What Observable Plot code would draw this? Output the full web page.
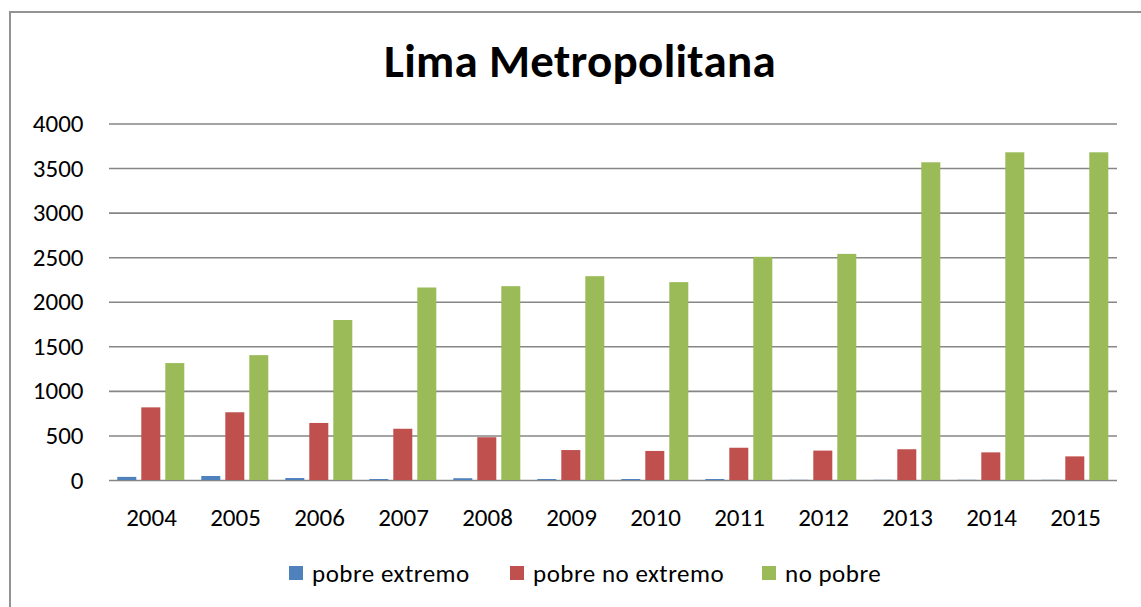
<!DOCTYPE html>
<html>
<head>
<meta charset="utf-8">
<script src="https://cdn.jsdelivr.net/npm/d3@7"></script>
<script src="https://cdn.jsdelivr.net/npm/@observablehq/plot@0.6"></script>
<style>
  html, body { margin: 0; padding: 0; width: 1141px; height: 607px; overflow: hidden; background: #fff; }
  body { position: relative; font-family: Carlito, Calibri, Lato, sans-serif; color: #000; }
  #frame { position: absolute; left: 9px; top: 11px; width: 1200px; height: 700px; border: 2px solid #939393; box-sizing: border-box; pointer-events: none; z-index: 3; }
  #title { position: absolute; left: 0; width: 1160px; top: 38px; text-align: center; font-weight: 700; font-size: 47px; letter-spacing: 0.3px; line-height: 1; z-index: 2; }
  #chart { position: absolute; left: 0; top: 0; z-index: 1; }
  #chart svg { background: transparent !important; overflow: visible; }
  .item { position: absolute; top: 559px; height: 28px; display: flex; align-items: center; font-size: 25px; letter-spacing: 0.5px; z-index: 2; white-space: nowrap; }
  .sw { width: 14px; height: 14px; margin-right: 9px; }
</style>
</head>
<body>
<div id="frame"></div>
<div id="title">Lima Metropolitana</div>
<div id="chart"></div>
<div id="legend"></div>
<script>
const years = ["2004","2005","2006","2007","2008","2009","2010","2011","2012","2013","2014","2015"];
const seriesNames = ["pobre extremo", "pobre no extremo", "no pobre"];
const seriesColors = ["#4F81BD", "#C0504D", "#9BBB59"];
const pobreExtremo   = [35, 45, 22, 11, 20, 11, 11, 11, 2, 2, 2, 2];
const pobreNoExtremo = [815, 760, 640, 575, 480, 336, 326, 362, 330, 345, 310, 265];
const noPobre        = [1312, 1401, 1795, 2160, 2175, 2287, 2220, 2504, 2537, 3565, 3677, 3677];
const yTicks = [0, 500, 1000, 1500, 2000, 2500, 3000, 3500, 4000];
const legendLeft = [289, 510, 762];

const seriesValues = [pobreExtremo, pobreNoExtremo, noPobre];
const data = [];
years.forEach((yr, i) => {
  seriesNames.forEach((s, j) => data.push({year: yr, series: s, value: seriesValues[j][i]}));
});

const font = "Carlito, Calibri, Lato, sans-serif";
const chart = Plot.plot({
  width: 1141,
  height: 540,
  marginLeft: 105.7,
  marginRight: 19.7,
  marginTop: 123.5,
  marginBottom: 60,
  style: {fontFamily: font, background: "transparent", color: "#000"},
  fx: {domain: years, padding: 0, axis: null, label: null},
  x: {domain: seriesNames, paddingInner: 0.22, paddingOuter: 0.3, axis: null, label: null},
  y: {domain: [0, 4000], axis: null, label: null},
  color: {domain: seriesNames, range: seriesColors},
  marks: [
    Plot.gridY(yTicks, {stroke: "#868686", strokeOpacity: 1, strokeWidth: 1.6}),
    Plot.barY(data, {fx: "year", x: "series", y: "value", fill: "series"}),
    Plot.axisY(yTicks, {tickSize: 0, tickPadding: 26, fontSize: 25, label: null, fill: "#000", tickFormat: d => String(d)}),
    Plot.axisFx({anchor: "bottom", tickSize: 0, tickPadding: 28, fontSize: 25, label: null, fill: "#000"})
  ]
});
document.getElementById("chart").appendChild(chart);

const legend = document.getElementById("legend");
seriesNames.forEach((s, j) => {
  const it = document.createElement("div");
  it.className = "item";
  it.style.left = legendLeft[j] + "px";
  const sw = document.createElement("div");
  sw.className = "sw";
  sw.style.background = seriesColors[j];
  const tx = document.createElement("span");
  tx.textContent = s;
  it.appendChild(sw); it.appendChild(tx);
  legend.appendChild(it);
});
</script>
</body>
</html>
